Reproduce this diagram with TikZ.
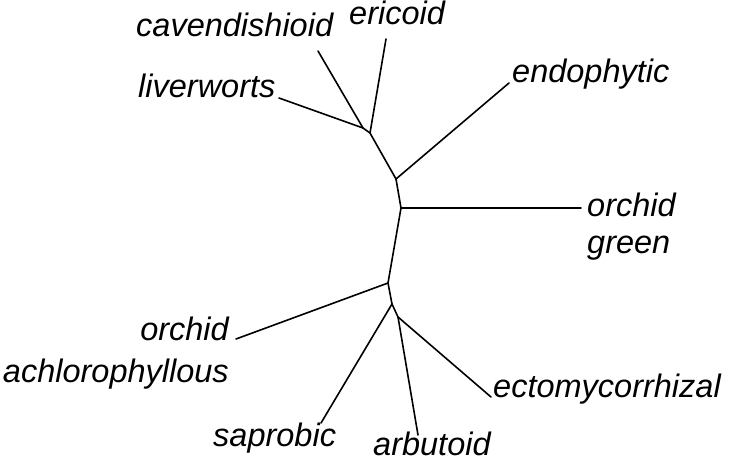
\documentclass[tikz,border=0pt]{standalone}
\usepackage{fontspec}
\setmainfont{Liberation Sans}
\begin{document}
\begin{tikzpicture}[x=1pt,y=-1pt,
  branch/.style={line width=1.6pt, line cap=round, line join=round},
  leaf/.style={inner sep=0pt, font=\fontsize{32.5}{37}\selectfont\itshape}]
\useasboundingbox (0,0) rectangle (731,463);
% internal nodes
\coordinate (A) at (363,128);
\coordinate (B) at (370,133);
\coordinate (C) at (396,179);
\coordinate (D) at (401,208);
\coordinate (E) at (388,283);
\coordinate (F) at (392,304);
\coordinate (G) at (398,317);
% leaf ends
\coordinate (eLiv) at (279,98);
\coordinate (eCav) at (318,51);
\coordinate (eEri) at (386,39);
\coordinate (eEnd) at (509,83);
\coordinate (eOG) at (581,208);
\coordinate (eOA) at (236,339);
\coordinate (eSap) at (321,423);
\coordinate (eArb) at (418,435);
\coordinate (eEct) at (491,397);
% labels
\node[leaf, anchor=base west] (tCav) at (136,36) {cavendishioid};
\node[leaf, anchor=base west] (tEri) at (349,24.5) {ericoid};
\node[leaf, anchor=base west] (tLiv) at (138,97) {liverworts};
\node[leaf, anchor=base west] (tEnd) at (512,82) {endophytic};
\node[leaf, anchor=base west] (tOG1) at (587,216) {orchid};
\node[leaf, anchor=base west] (tOG2) at (587,253) {green};
\node[leaf, anchor=base east] (tOA1) at (229,340) {orchid};
\node[leaf, anchor=base east] (tOA2) at (229,382) {achlorophyllous};
\node[leaf, anchor=base west] (tEct) at (493,397) {ectomycorrhizal};
\node[leaf, anchor=base west] (tSap) at (213,446) {saprobic};
\node[leaf, anchor=base west] (tArb) at (373,455.5) {arbutoid};
% branches
\draw[branch] (eLiv) -- (A);
\draw[branch] (eCav) -- (A);
\draw[branch] (A) -- (B);
\draw[branch] (eEri) -- (B);
\draw[branch] (B) -- (C);
\draw[branch] (C) -- (eEnd);
\draw[branch] (C) -- (D);
\draw[branch] (D) -- (eOG);
\draw[branch] (D) -- (E);
\draw[branch] (E) -- (eOA);
\draw[branch] (E) -- (F);
\draw[branch] (F) -- (eSap);
\draw[branch] (F) -- (G);
\draw[branch] (G) -- (eArb);
\draw[branch] (G) -- (eEct);
\end{tikzpicture}
\end{document}
